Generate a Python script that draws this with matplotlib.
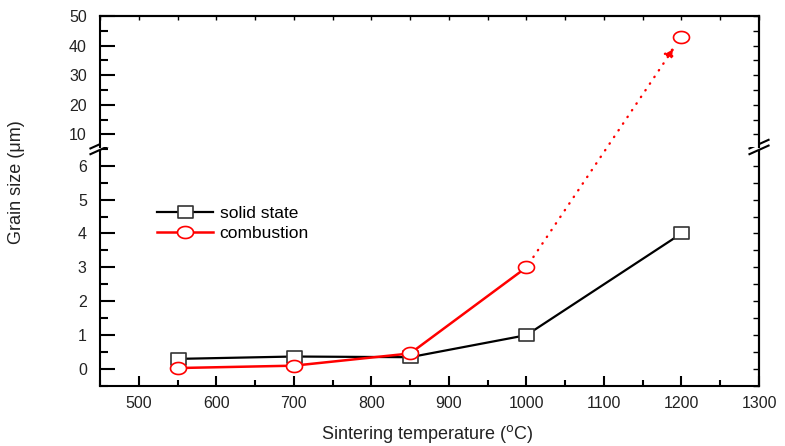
import numpy as np
import matplotlib
matplotlib.use("Agg")
import matplotlib.pyplot as plt
from matplotlib.path import Path
from matplotlib.patches import ConnectionPatch, Polygon
from matplotlib.lines import Line2D
from matplotlib.ticker import MultipleLocator

plt.rcParams['font.family'] = ['Liberation Sans', 'DejaVu Sans']

# dados
temperature = [550, 700, 850, 1000, 1200]
solid_state = [0.30, 0.37, 0.35, 1.0, 4.0]
combustion = [0.03, 0.10, 0.46, 3.0]
combustion_1200 = 43.0

x_ticks = [500, 600, 700, 800, 900, 1000, 1100, 1200, 1300]
y_ticks_low = [0, 1, 2, 3, 4, 5, 6]
y_ticks_high = [10, 20, 30, 40, 50]

# marcadores achatados (como no original)
t = np.linspace(0, 2 * np.pi, 60)
ellipse = Path(np.column_stack([1.33 * np.cos(t), np.sin(t)]), closed=True)
rect = Path([(-1.25, -1), (1.25, -1), (1.25, 1), (-1.25, 1), (-1.25, -1)], closed=True)

fig = plt.figure(figsize=(7.85, 4.46), dpi=100)
left, width = 0.1274, 0.8395
ax_bot = fig.add_axes([left, 0.1345, width, 0.5359])
ax_top = fig.add_axes([left, 0.6704, width, 0.2937], sharex=ax_bot)

# curvas
ax_bot.plot(temperature, solid_state, color='black', lw=1.6, marker=rect, ms=10.8,
            mfc='white', mec='#333333', mew=1.2, label='solid state', zorder=3)
ax_bot.plot(temperature[:4], combustion, color='red', lw=1.8, marker=ellipse, ms=11.5,
            mfc='white', mec='red', mew=1.2, label='combustion', zorder=4)
ax_top.plot([temperature[-1]], [combustion_1200], ls='none', marker=ellipse, ms=11.5,
            mfc='white', mec='red', mew=1.2, zorder=4)

# seta pontilhada atravessando a quebra do eixo
arrow = ConnectionPatch(xyA=(temperature[3], combustion[3]), coordsA=ax_bot.transData,
                        xyB=(temperature[-1], combustion_1200), coordsB=ax_top.transData,
                        arrowstyle='-|>', linestyle=(0, (0.2, 3.2)), color='red', lw=1.7,
                        capstyle='round', shrinkA=9, shrinkB=9, mutation_scale=15, zorder=5)
fig.add_artist(arrow)

ax_bot.set_xlim(450, 1300)
ax_bot.set_ylim(-0.5, 6.55)
ax_top.set_ylim(5.7, 50)

ax_bot.spines['top'].set_visible(False)
ax_top.spines['bottom'].set_visible(False)
for ax in (ax_bot, ax_top):
    for s in ax.spines.values():
        s.set_linewidth(1.5)

ax_bot.set_xticks(x_ticks)
ax_bot.xaxis.set_minor_locator(MultipleLocator(50))
ax_bot.set_yticks(y_ticks_low)
ax_bot.yaxis.set_minor_locator(MultipleLocator(0.5))
ax_top.set_yticks(y_ticks_high)
ax_top.yaxis.set_minor_locator(MultipleLocator(5))

ax_bot.tick_params(axis='x', which='major', direction='in', length=7.5, width=1.5,
                   pad=7.5, labelsize=11.5, labelcolor='#222222')
ax_bot.tick_params(axis='x', which='minor', direction='in', length=4.3, width=1.5)
ax_top.tick_params(axis='x', which='both', bottom=False, labelbottom=False)
for ax in (ax_bot, ax_top):
    ax.tick_params(axis='y', which='major', direction='in', length=11, width=1.5,
                   pad=9.5, labelsize=11.5, labelcolor='#222222')
    ax.tick_params(axis='y', which='minor', direction='in', length=6, width=1.5)
    sec = ax.secondary_yaxis('right')
    sec.set_yticks(ax.get_yticks())
    sec.yaxis.set_minor_locator(MultipleLocator(0.5 if ax is ax_bot else 5))
    sec.tick_params(which='both', direction='in', length=4.5, width=1, labelright=False)
    sec.spines['right'].set_linewidth(1.5)

top_sec = ax_top.secondary_xaxis('top')
top_sec.xaxis.set_major_locator(MultipleLocator(50))
top_sec.tick_params(direction='in', length=3, width=1, labeltop=False)
top_sec.spines['top'].set_linewidth(1.5)

# marcas de quebra "//"
tr = ax_bot.transAxes
dx, dy, gap = 0.0145, 0.018, 0.012
for xa in (0, 1):
    ax_bot.add_patch(Polygon([(xa - dx, 1 - dy - gap), (xa + dx, 1 + dy - gap),
                              (xa + dx, 1 + dy + gap), (xa - dx, 1 - dy + gap)],
                             closed=True, transform=tr, fc='white', ec='none',
                             clip_on=False, zorder=10))
    for off in (-gap, gap):
        ax_bot.add_line(Line2D([xa - dx, xa + dx], [1 - dy + off, 1 + dy + off],
                               transform=tr, color='black', lw=1.5, clip_on=False,
                               zorder=11))

ax_bot.set_xlabel('Sintering temperature ($^{\\rm o}$C)', fontsize=13, color='#222222')
ax_bot.xaxis.set_label_coords(0.496, -0.155)
ax_bot.xaxis.label.set_va('top')
ax_bot.set_ylabel('Grain size (\u03bcm)', fontsize=13, color='#222222')
ax_bot.yaxis.set_label_coords(25 / 785, 0.5908, transform=fig.transFigure)

ax_bot.legend(loc='center left', bbox_to_anchor=(0.2, 0.499), bbox_transform=fig.transFigure,
              frameon=False, fontsize=12.5, handlelength=3.2, handletextpad=0.4,
              labelspacing=0.3, borderpad=0, borderaxespad=0)

fig.savefig('out.png', dpi=100)
